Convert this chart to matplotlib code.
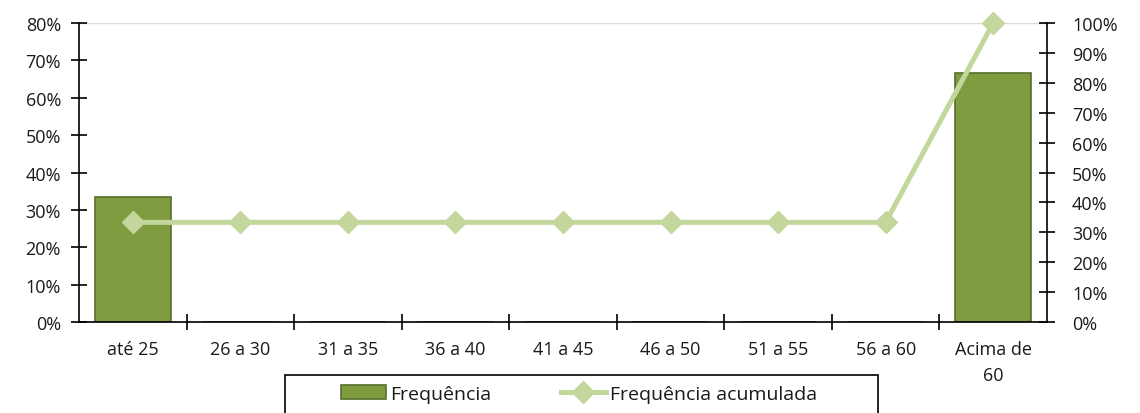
import numpy as np
import matplotlib.pyplot as plt
from matplotlib.patches import Rectangle
from matplotlib.ticker import PercentFormatter, FixedLocator

faixas = ["até 25", "26 a 30", "31 a 35", "36 a 40", "41 a 45",
          "46 a 50", "51 a 55", "56 a 60", "Acima de\n60"]
frequencia = [33.33, 0, 0, 0, 0, 0, 0, 0, 66.67]
acumulada = [33.33, 33.33, 33.33, 33.33, 33.33, 33.33, 33.33, 33.33, 100]

plt.rcParams['font.family'] = ['Open Sans', 'DejaVu Sans']

fig = plt.figure(figsize=(11.4, 4.14), dpi=100)
ax1 = fig.add_axes([0.0693, 0.2198, 0.8491, 0.7222])
ax2 = ax1.twinx()

x = np.arange(len(faixas))
ax1.bar(x, frequencia, width=0.71, color='#7F9C41', edgecolor='#56702A',
        linewidth=1.2, zorder=2, label='Frequência')
ax2.plot(x, acumulada, color='#C3D69B', linewidth=3.6, marker='D',
         markersize=11, markeredgecolor='#C3D69B', zorder=3, clip_on=False,
         label='Frequência acumulada')

ax1.set_xlim(-0.5, len(faixas) - 0.5)
ax1.set_ylim(0, 80)
ax2.set_ylim(0, 100)
ax1.set_yticks(np.arange(0, 81, 10))
ax2.set_yticks(np.arange(0, 101, 10))
ax1.yaxis.set_major_formatter(PercentFormatter(decimals=0))
ax2.yaxis.set_major_formatter(PercentFormatter(decimals=0))

# rótulos no centro, tracinhos entre as categorias
ax1.set_xticks(x)
ax1.set_xticklabels(faixas, linespacing=1.55)
ax1.tick_params(axis='x', which='major', length=0, pad=13)
ax1.xaxis.set_minor_locator(FixedLocator(x[:-1] + 0.5))
ax1.tick_params(axis='x', which='minor', direction='inout', length=12, width=1.2)

ax1.tick_params(axis='y', direction='inout', length=12, width=1.2, pad=7)
ax2.tick_params(axis='y', direction='inout', length=12, width=1.2, pad=12)
for a in (ax1, ax2):
    a.tick_params(labelsize=13, labelcolor='#1a1a1a')

ax1.axhline(80, color='#d9d9d9', linewidth=1, zorder=1)
for a in (ax1, ax2):
    a.spines['top'].set_visible(False)
    for s in ('left', 'right', 'bottom'):
        a.spines[s].set_linewidth(1.2)
ax1.spines['right'].set_visible(False)
ax2.spines['left'].set_visible(False)
ax2.spines['bottom'].set_visible(False)

# moldura da legenda (corta na borda de baixo)
fig.patches.append(Rectangle((0.25, -0.05), 0.52, 0.1418, transform=fig.transFigure,
                             facecolor='white', edgecolor='black', linewidth=1.2))

h1, l1 = ax1.get_legend_handles_labels()
h2, l2 = ax2.get_legend_handles_labels()
leg = fig.legend(h1 + h2, l1 + l2, loc='upper center',
                 bbox_to_anchor=(0.508, 0.068), ncol=2, fontsize=14,
                 frameon=False, handlelength=2.3, handletextpad=0.2,
                 columnspacing=3.6, borderpad=0, borderaxespad=0)
for t in leg.get_texts():
    t.set_color('#1a1a1a')

fig.savefig('out.png', dpi=100)
